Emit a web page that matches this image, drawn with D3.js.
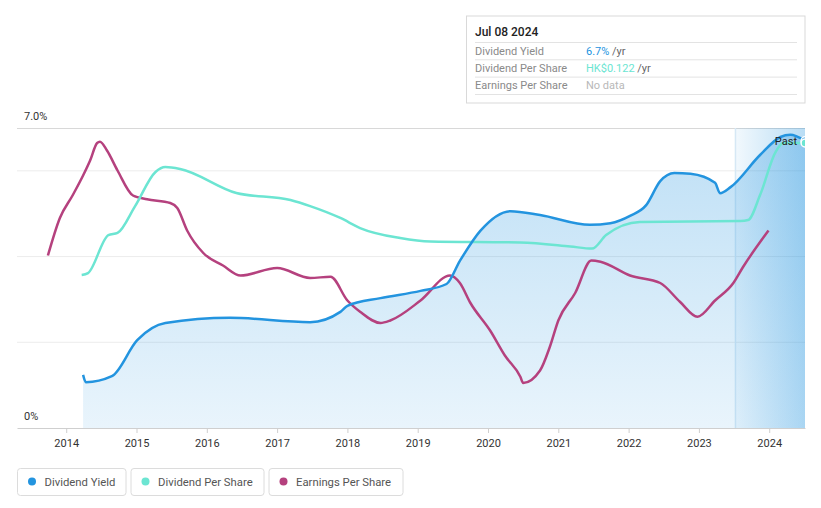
<!DOCTYPE html>
<html><head><meta charset="utf-8">
<script src="https://cdn.jsdelivr.net/npm/d3@7"></script>
<style>
body{margin:0;background:#fff;font-family:Roboto,"Noto Sans",sans-serif;}
svg{display:block}
</style></head><body>
<svg id="c" width="821" height="508"></svg>
<script>
// ---- data (decimal year, value) ----
const yieldYears = [2014.24,2014.28,2014.65,2015.01,2015.41,2016.33,2017.47,2017.90,2018.00,2018.47,2019.04,2019.41,2019.60,2019.89,2020.32,2020.74,2021.45,2021.74,2022.02,2022.25,2022.45,2022.65,2022.88,2023.23,2023.30,2023.45,2023.87,2024.16,2024.30,2024.51];
const yieldValues = [1.24,1.07,1.21,2.05,2.45,2.57,2.47,2.71,2.85,3.03,3.20,3.36,3.90,4.60,5.06,4.97,4.74,4.78,4.95,5.20,5.76,5.95,5.93,5.72,5.48,5.62,6.37,6.79,6.84,6.70];

const dpsYears = [2014.22,2014.31,2014.60,2014.73,2014.98,2015.27,2015.41,2015.62,2016.42,2017.19,2017.47,2017.90,2018.18,2018.75,2019.18,2020.46,2021.17,2021.48,2021.68,2022.16,2023.59,2023.70,2023.87,2024.09,2024.20,2024.51];
const dpsValues = [0.0655,0.0663,0.0826,0.0835,0.0950,0.1096,0.1117,0.1109,0.1006,0.0976,0.0950,0.0899,0.0856,0.0813,0.0798,0.0794,0.0777,0.0768,0.0826,0.0882,0.0886,0.0890,0.0997,0.1181,0.1220,0.1220];

const epsYears = [2013.74,2013.91,2014.09,2014.24,2014.34,2014.44,2014.48,2014.58,2014.73,2014.95,2015.15,2015.48,2015.58,2015.72,2015.95,2016.23,2016.48,2017.00,2017.47,2017.76,2018.00,2018.18,2018.47,2018.61,2019.04,2019.46,2019.60,2019.75,2020.03,2020.24,2020.46,2020.50,2020.74,2020.88,2021.00,2021.24,2021.47,2021.60,2022.02,2022.45,2022.73,2022.98,2023.23,2023.49,2023.63,2023.99];
const epsValues = [0.138,0.168,0.186,0.202,0.214,0.228,0.229,0.222,0.206,0.186,0.183,0.180,0.176,0.158,0.140,0.130,0.122,0.128,0.120,0.121,0.102,0.093,0.084,0.086,0.102,0.122,0.116,0.100,0.078,0.058,0.041,0.036,0.046,0.065,0.086,0.108,0.134,0.133,0.122,0.116,0.101,0.089,0.102,0.116,0.129,0.158];

const tickYears = [2014,2015,2016,2017,2018,2019,2020,2021,2022,2023,2024];
const yLabels = ["0%","7.0%"];
const pastStart = 2023.52;
const legendNames = ["Dividend Yield","Dividend Per Share","Earnings Per Share"];
const tooltipDate = "Jul 08 2024";
const tooltipRows = [["Dividend Yield","6.7%"," /yr"],["Dividend Per Share","HK$0.122"," /yr"],["Earnings Per Share","No data",""]];

// ---- styles ----
const C_Y = "#2394df", C_D = "#6ce5d2", C_E = "#b5417e";
const L = 17, R = 805, T = 128, B = 428;

const svg = d3.select("#c");
const x = d3.scaleLinear().domain([2013.3, 2013.3 + (R - L) / 70.3]).range([L, R]);
const yY = d3.scaleLinear().domain([0, 7]).range([B, T]);
const yD = d3.scaleLinear().domain([0, 0.122 * 300 / 285]).range([B, T]);
const yE = d3.scaleLinear().domain([0, 0.24]).range([B, T]);

const defs = svg.append("defs");
const ga = defs.append("linearGradient").attr("id","ga")
  .attr("gradientUnits","userSpaceOnUse").attr("x1",0).attr("y1",T).attr("x2",0).attr("y2",B);
ga.append("stop").attr("offset",0).attr("stop-color",C_Y).attr("stop-opacity",0.3);
ga.append("stop").attr("offset",1).attr("stop-color",C_Y).attr("stop-opacity",0.1);
const gp = defs.append("linearGradient").attr("id","gp").attr("x1",0).attr("y1",0).attr("x2",1).attr("y2",0);
gp.append("stop").attr("offset",0).attr("stop-color",C_Y).attr("stop-opacity",0.06);
gp.append("stop").attr("offset",1).attr("stop-color",C_Y).attr("stop-opacity",0.32);
defs.append("clipPath").attr("id","clip").append("rect").attr("x",L).attr("y",T-10).attr("width",R-L).attr("height",B-T+10);

// grid
[2,4,6].forEach(v=>{
  svg.append("line").attr("x1",L).attr("x2",R).attr("y1",yY(v)).attr("y2",yY(v)).attr("stroke","#ececec").attr("stroke-width",1);
});
svg.append("line").attr("x1",L).attr("x2",R).attr("y1",T+0.5).attr("y2",T+0.5).attr("stroke","#d8d8d8");

// past region
svg.append("rect").attr("x",x(pastStart)).attr("y",T).attr("width",R-x(pastStart)).attr("height",B-T).attr("fill","url(#gp)");
svg.append("line").attr("x1",x(pastStart)).attr("x2",x(pastStart)).attr("y1",T).attr("y2",B).attr("stroke","#d6e8f5").attr("stroke-width",1.5);

const g = svg.append("g").attr("clip-path","url(#clip)");
const yieldData = yieldYears.map((d,i)=>[d,yieldValues[i]]);
const dpsData = dpsYears.map((d,i)=>[d,dpsValues[i]]);
const epsData = epsYears.map((d,i)=>[d,epsValues[i]]);
const curve = d3.curveMonotoneX;

g.append("path").datum(yieldData).attr("fill","url(#ga)")
  .attr("d", d3.area().x(d=>x(d[0])).y0(B).y1(d=>yY(d[1])).curve(curve));
g.append("path").datum(epsData).attr("fill","none").attr("stroke",C_E).attr("stroke-width",2.5)
  .attr("d", d3.line().x(d=>x(d[0])).y(d=>yE(d[1])).curve(curve));
g.append("path").datum(dpsData).attr("fill","none").attr("stroke",C_D).attr("stroke-width",2.5)
  .attr("d", d3.line().x(d=>x(d[0])).y(d=>yD(d[1])).curve(curve));
g.append("path").datum(yieldData).attr("fill","none").attr("stroke",C_Y).attr("stroke-width",2.5)
  .attr("d", d3.line().x(d=>x(d[0])).y(d=>yY(d[1])).curve(curve));

// end markers
const ly = yieldData[yieldData.length-1], ld = dpsData[dpsData.length-1];
g.append("circle").attr("cx",x(ly[0])).attr("cy",yY(ly[1])).attr("r",4).attr("fill",C_Y).attr("stroke","#fff").attr("stroke-width",1.5);
g.append("circle").attr("cx",x(ld[0])).attr("cy",yD(ld[1])).attr("r",4).attr("fill",C_D).attr("stroke","#fff").attr("stroke-width",1.5);

svg.append("text").attr("x",797).attr("y",145).attr("text-anchor","end").attr("font-size",11).attr("fill","#222").text("Past");

// x axis
const xa = svg.append("g").attr("transform",`translate(0,${B})`)
  .call(d3.axisBottom(x).tickValues(tickYears).tickFormat(d3.format("d")).tickSize(5).tickSizeOuter(0).tickPadding(6));
xa.select(".domain").attr("stroke","#cfcfcf");
xa.selectAll(".tick line").attr("stroke","#cfcfcf");
xa.selectAll("text").attr("font-family","Roboto").attr("font-size",11).attr("fill","#333");

// y labels
svg.append("text").attr("x",24).attr("y",120).attr("font-size",11).attr("fill","#333").text(yLabels[1]);
svg.append("text").attr("x",24).attr("y",420).attr("font-size",11).attr("fill","#333").text(yLabels[0]);

// tooltip
const tt = svg.append("g");
tt.append("rect").attr("x",466.5).attr("y",16).attr("width",338.5).attr("height",87).attr("fill","#fff").attr("stroke","#d9d9d9");
tt.append("text").attr("x",475).attr("y",35.5).attr("font-size",12).attr("fill","#222").attr("font-weight",500).text(tooltipDate);
const valColors = [C_Y, C_D, "#b8b8b8"];
tooltipRows.forEach((r,i)=>{
  const yy = 42 + i*17.3;
  tt.append("line").attr("x1",475).attr("x2",797).attr("y1",yy+0.5).attr("y2",yy+0.5).attr("stroke","#e3e3e3");
  tt.append("text").attr("x",475).attr("y",yy+12.5).attr("font-size",11).attr("fill","#8a8a8a").text(r[0]);
  const t = tt.append("text").attr("x",586).attr("y",yy+12.5).attr("font-size",11);
  t.append("tspan").attr("fill",valColors[i]).text(r[1]);
  t.append("tspan").attr("fill","#666").text(r[2]);
});
tt.append("line").attr("x1",475).attr("x2",797).attr("y1",94.5).attr("y2",94.5).attr("stroke","#e3e3e3");

// legend
const legColors = [C_Y, C_D, C_E];
const legX = [17, 130.5, 268.5], legW = [108.5, 133, 134];
legendNames.forEach((n,i)=>{
  const lg = svg.append("g").attr("transform",`translate(${legX[i]},468)`);
  lg.append("rect").attr("x",0.5).attr("y",0.5).attr("width",legW[i]).attr("height",27).attr("rx",3).attr("fill","#fff").attr("stroke","#dcdcdc");
  lg.append("circle").attr("cx",15).attr("cy",13.5).attr("r",4).attr("fill",legColors[i]);
  lg.append("text").attr("x",27.5).attr("y",17.5).attr("font-size",11.3).attr("fill","#555").text(n);
});
</script>
</body></html>
